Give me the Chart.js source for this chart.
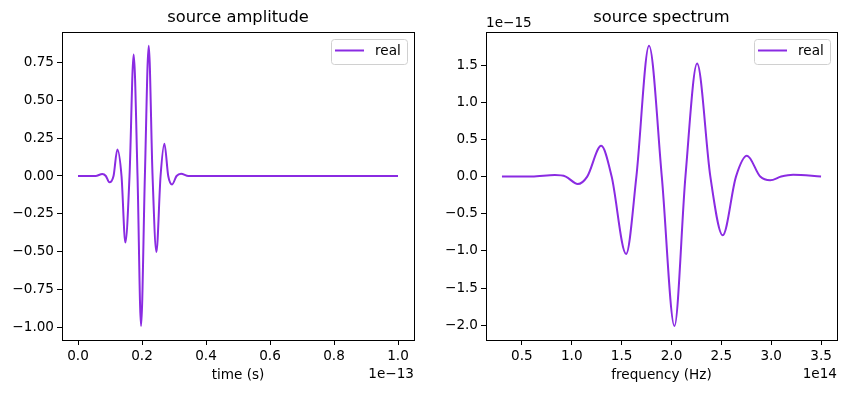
<!DOCTYPE html>
<html>
<head>
<meta charset="utf-8">
<script src="https://cdn.jsdelivr.net/npm/chart.js@4.4.1/dist/chart.umd.min.js"></script>
<style>
    body { margin: 0; background: #fff; }
    #contenedor { position: relative; width: 847px; height: 393px; }
    canvas { position: absolute; top: 0; }
</style>
</head>
<body>
<div id="contenedor">
    <canvas id="amplitud" width="423" height="393" style="left:0px"></canvas>
    <canvas id="espectro" width="424" height="393" style="left:423px"></canvas>
</div>
<script>
const FUENTE = 'DejaVu Sans';
const TAM = 13.6;
const MORADO = '#8a2be2';

// tiempo en unidades de 1e-13 s
const tiempo = [0, 0.055, 0.076, 0.087, 0.098, 0.111, 0.123, 0.136, 0.148, 0.161, 0.174, 0.186,
    0.197, 0.209, 0.221, 0.233, 0.245, 0.258, 0.270, 0.282, 0.294, 0.308, 0.322, 0.345, 1.0];
const amplitudReal = [0, 0, 0.013, 0, -0.042, 0, 0.176, 0, -0.441, 0, 0.805, 0,
    -0.993, 0, 0.862, 0, -0.503, 0, 0.214, 0, -0.056, 0, 0.015, 0, 0];

// frecuencia en unidades de 1e14 Hz, espectro en unidades de 1e-15
const frecuencia = [0.30, 0.60, 0.83, 0.94, 1.06, 1.155, 1.295, 1.40, 1.545, 1.648, 1.775, 1.903,
    2.03, 2.14, 2.257, 2.39, 2.514, 2.647, 2.757, 2.89, 2.99, 3.10, 3.22, 3.50];
const espectroReal = [0, 0, 0.02, 0, -0.10, 0, 0.415, 0, -1.04, 0, 1.76, 0,
    -2.01, 0, 1.52, 0, -0.79, 0, 0.28, 0, -0.05, 0, 0.025, 0];

const ticksTiempo = [0, 0.2, 0.4, 0.6, 0.8, 1.0];
const ticksAmplitud = [-1, -0.75, -0.5, -0.25, 0, 0.25, 0.5, 0.75];
const ticksFrecuencia = [0.5, 1, 1.5, 2, 2.5, 3, 3.5];
const ticksEspectro = [-2, -1.5, -1, -0.5, 0, 0.5, 1, 1.5];

function formato(v, dec) {
    return v.toFixed(dec).replace('-', '\u2212');
}

// rango con 5% de margen, como matplotlib
function rango(valores) {
    const min = Math.min(...valores), max = Math.max(...valores);
    const m = (max - min) * 0.05;
    return [min - m, max + m];
}

const decoracion = {
    id: 'decoracion',
    afterDraw(chart, args, o) {
        const { ctx, chartArea: a } = chart;
        ctx.save();
        ctx.strokeStyle = '#000';
        ctx.lineWidth = 1;
        ctx.strokeRect(Math.round(a.left) + 0.5, Math.round(a.top) + 0.5,
            Math.round(a.right - a.left), Math.round(a.bottom - a.top));

        // leyenda
        const w = 76, h = 25;
        const x0 = Math.round(a.right - 7 - w), y0 = Math.round(a.top + 7);
        ctx.beginPath();
        ctx.roundRect(x0 + 0.5, y0 + 0.5, w, h, 3);
        ctx.fillStyle = 'rgba(255,255,255,0.8)';
        ctx.fill();
        ctx.strokeStyle = '#d0d0d0';
        ctx.stroke();
        ctx.strokeStyle = MORADO;
        ctx.lineWidth = 2;
        ctx.beginPath();
        ctx.moveTo(x0 + 4, y0 + 11.5);
        ctx.lineTo(x0 + 33, y0 + 11.5);
        ctx.stroke();
        ctx.fillStyle = '#000';
        ctx.font = `${TAM}px "${FUENTE}"`;
        ctx.textBaseline = 'middle';
        ctx.textAlign = 'left';
        ctx.fillText('real', x0 + 44, y0 + 12.5);

        // texto del exponente
        if (o.exponenteX) {
            ctx.textAlign = 'right';
            ctx.fillText(o.exponenteX, a.right, 374);
        }
        if (o.exponenteY) {
            ctx.textAlign = 'left';
            ctx.fillText(o.exponenteY, a.left, 23);
        }
        ctx.restore();
    }
};

function escala(rangoEje, ticks, dec, ajuste, titulo) {
    const fuente = { family: FUENTE, size: TAM };
    const eje = {
        type: 'linear',
        min: rangoEje[0],
        max: rangoEje[1],
        afterBuildTicks: s => { s.ticks = ticks.map(v => ({ value: v })); },
        afterFit: ajuste,
        ticks: {
            callback: v => formato(v, dec),
            font: fuente, color: '#000', padding: 3,
            maxRotation: 0, autoSkip: false
        },
        grid: {
            display: true, drawOnChartArea: false, drawTicks: true,
            tickLength: 5, tickColor: '#000', tickWidth: 1
        },
        border: { display: false }
    };
    if (titulo) {
        eje.title = { display: true, text: titulo, font: fuente, color: '#000', padding: { top: 0, bottom: 9 } };
    }
    return eje;
}

function crearGrafica(id, xs, ys, cfg) {
    const ctx = document.getElementById(id).getContext('2d');
    return new Chart(ctx, {
        type: 'line',
        data: {
            datasets: [{
                label: 'real',
                data: xs.map((x, i) => ({ x: x, y: ys[i] })),
                borderColor: MORADO,
                borderWidth: 2,
                pointRadius: 0,
                fill: false,
                cubicInterpolationMode: 'monotone'
            }]
        },
        options: {
            responsive: false,
            animation: false,
            layout: { padding: { left: 0, right: cfg.derecha, top: 0, bottom: 0 } },
            scales: {
                x: escala(rango(xs), cfg.ticksX, cfg.decX, s => { s.height = 53; }, cfg.tituloX),
                y: escala(rango(ys), cfg.ticksY, cfg.decY, s => { s.width = cfg.anchoY; })
            },
            plugins: {
                legend: { display: false },
                tooltip: { enabled: false },
                title: {
                    display: true,
                    fullSize: false,
                    text: cfg.titulo,
                    color: '#000',
                    font: { family: FUENTE, size: 16.3, weight: 'normal' },
                    padding: { top: 7.5, bottom: 4.7 }
                },
                decoracion: { exponenteX: cfg.expX, exponenteY: cfg.expY }
            }
        },
        plugins: [decoracion]
    });
}

crearGrafica('amplitud', tiempo, amplitudReal, {
    titulo: 'source amplitude', tituloX: 'time (s)',
    ticksX: ticksTiempo, decX: 1, ticksY: ticksAmplitud, decY: 2,
    anchoY: 62, derecha: 9, expX: '1e\u221213'
});

crearGrafica('espectro', frecuencia, espectroReal, {
    titulo: 'source spectrum', tituloX: 'frequency (Hz)',
    ticksX: ticksFrecuencia, decX: 1, ticksY: ticksEspectro, decY: 1,
    anchoY: 63, derecha: 10, expX: '1e14', expY: '1e\u221215'
});
</script>
</body>
</html>
